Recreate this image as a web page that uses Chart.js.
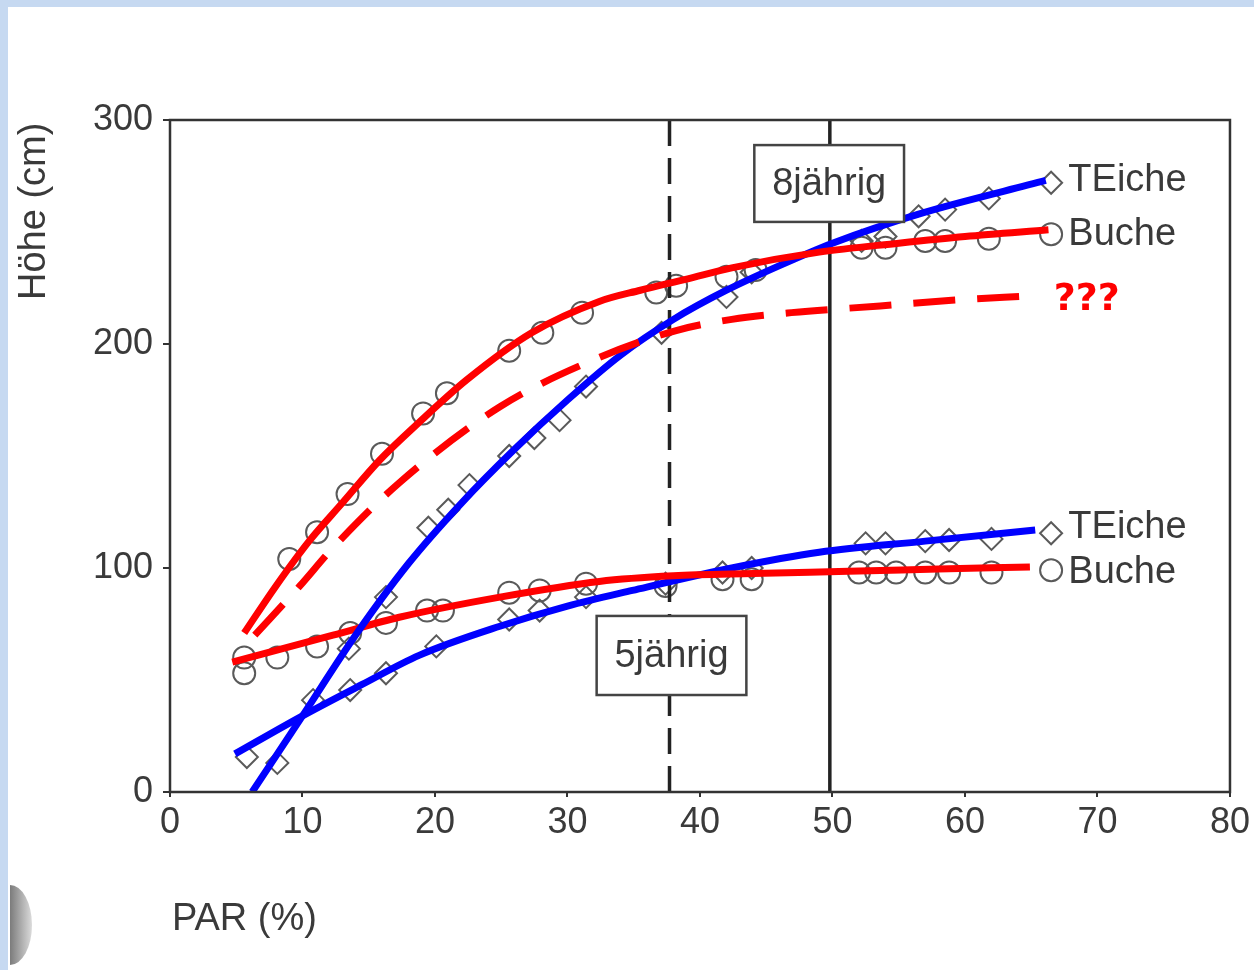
<!DOCTYPE html>
<html>
<head>
<meta charset="utf-8">
<script src="https://cdn.jsdelivr.net/npm/chart.js@4.4.1/dist/chart.umd.min.js"></script>
<style>
  html, body { margin: 0; padding: 0; background: #fff; }
  canvas { display: block; }
</style>
</head>
<body>
<canvas id="chart" width="1254" height="970"></canvas>
<script>
// axis ticks
const xTicks = [0, 10, 20, 30, 40, 50, 60, 70, 80]
const yTicks = [0, 100, 200, 300]

// coloured fitted curves drawn over the scan (PAR %, height cm)
const buche8X = [5.6, 8, 10.5, 13, 15.8, 18.8, 22.4, 27.3, 32.4, 35.5, 39, 42.4, 49, 55, 60, 66.3]
const buche8Y = [71, 92, 112, 129, 148, 165, 184, 205, 219, 224, 229, 234, 241, 245, 248, 251]
const guess8X = [6.4, 9.8, 12.3, 17.3, 24.9, 32.4, 38.2, 42.4, 46.9, 53.6, 59, 64.9]
const guess8Y = [70, 92, 109, 138, 172, 194, 206, 211, 214, 217, 219.5, 221.5]
const teiche8X = [6.2, 10, 14, 18, 22, 26, 30, 34, 38, 42, 46, 50, 56.5, 66.1]
const teiche8Y = [0, 34, 70, 102, 129, 153, 175, 195, 211, 224, 235, 245, 258, 273]
const buche5X = [4.7, 12.3, 17.3, 24.9, 32.4, 38, 44, 51.2, 58, 64.9]
const buche5Y = [58, 70, 78, 87, 94, 96.5, 97.5, 98.5, 99.5, 100.5]
const teiche5X = [4.9, 10, 14.5, 18.8, 24.9, 30, 34.9, 42.4, 49, 57, 65.3]
const teiche5Y = [17, 34, 48, 61, 74, 83, 90, 100, 107, 112, 117]

// scanned measurement markers
const buche8MX = [9, 11.1, 13.4, 16, 19.1, 20.9, 25.6, 28.1, 31.1, 36.7, 38.2, 42, 44.2, 52.2, 54, 57, 58.5, 61.8, 66.5]
const buche8MY = [104, 116, 133, 151, 169, 178, 197, 205, 214, 223, 226, 230, 233, 243, 243, 246, 246, 247, 249]
const teiche8MX = [8.1, 10.8, 13.5, 16.3, 19.5, 21, 22.6, 25.6, 27.5, 29.4, 31.4, 37.1, 42, 43.9, 52.2, 54, 56.5, 58.5, 61.8, 66.5]
const teiche8MY = [13, 41, 64, 87, 118, 126, 137, 150, 158, 166, 181, 205, 221, 232, 246, 248, 257, 260, 265, 272]
const buche5MX = [5.6, 5.6, 8.1, 11.1, 13.6, 16.3, 19.4, 20.6, 25.6, 27.9, 31.4, 37.4, 41.7, 43.9, 52, 53.3, 54.8, 57, 58.8, 62, 66.5]
const buche5MY = [53, 60, 60, 65, 71, 75.5, 81, 81, 89, 90, 93, 92, 95, 95, 98, 98, 98, 98, 98, 98, 99]
const teiche5MX = [5.8, 13.6, 16.3, 20.1, 25.6, 27.9, 31.4, 37.4, 41.7, 43.9, 52.5, 54, 57, 58.8, 62, 66.5]
const teiche5MY = [15.6, 45.5, 53, 65, 77, 81, 87, 93, 98, 100, 111, 111, 112, 112.5, 113, 115.5]

// reference lines
const ageLineDashedX = 37.7
const ageLineSolidX = 49.8

const pts = (xs, ys) => xs.map((x, i) => ({ x: x, y: ys[i] }))
const scanInk = '#3a3a3a'

function curve(xs, ys, color, dash) {
    return {
        data: pts(xs, ys),
        showLine: true,
        borderColor: color,
        borderWidth: 7,
        borderDash: dash || [],
        pointRadius: 0,
        cubicInterpolationMode: 'monotone',
        order: 0
    }
}

function markers(xs, ys, style) {
    return {
        data: pts(xs, ys),
        showLine: false,
        pointStyle: style,
        pointRadius: 11,
        borderColor: '#5a5a5a',
        backgroundColor: 'rgba(255,255,255,0)',
        pointBorderWidth: 2,
        order: 2
    }
}

function vline(x, dash) {
    return {
        data: [{ x: x, y: 0 }, { x: x, y: 300 }],
        showLine: true,
        borderColor: '#222',
        borderWidth: 3.5,
        borderDash: dash || [],
        pointRadius: 0,
        order: 1
    }
}

const scanPlugin = {
    id: 'scan',
    beforeDraw(chart) {
        const ctx = chart.ctx
        ctx.save()
        ctx.fillStyle = '#fff'
        ctx.fillRect(0, 0, chart.width, chart.height)
        ctx.fillStyle = '#c6d9f1'
        ctx.fillRect(0, 0, chart.width, 7)
        ctx.fillRect(0, 0, 8, chart.height)
        // grey blob bottom left
        const g = ctx.createLinearGradient(6, 0, 34, 0)
        g.addColorStop(0, '#6a6a6a')
        g.addColorStop(1, '#e4e4e4')
        ctx.fillStyle = g
        ctx.beginPath()
        ctx.ellipse(10, 925, 22, 40, 0, -Math.PI / 2, Math.PI / 2)
        ctx.fill()
        ctx.restore()
    },
    afterDatasetsDraw(chart) {
        const ctx = chart.ctx
        const xs = chart.scales.x
        const ys = chart.scales.y
        const a = chart.chartArea
        ctx.save()

        // frame
        ctx.strokeStyle = '#333'
        ctx.lineWidth = 2.5
        ctx.strokeRect(a.left, a.top, a.right - a.left, a.bottom - a.top)

        // age boxes
        ctx.font = '38px "Liberation Sans", Arial, sans-serif'
        ctx.textAlign = 'center'
        ctx.textBaseline = 'middle'
        const box = (x0, x1, y0, y1, text) => {
            const l = xs.getPixelForValue(x0), r = xs.getPixelForValue(x1)
            const t = ys.getPixelForValue(y0), b = ys.getPixelForValue(y1)
            ctx.fillStyle = '#fff'
            ctx.fillRect(l, t, r - l, b - t)
            ctx.strokeStyle = '#444'
            ctx.lineWidth = 2.5
            ctx.strokeRect(l, t, r - l, b - t)
            ctx.fillStyle = scanInk
            ctx.fillText(text, (l + r) / 2, (t + b) / 2 + 1)
        }
        box(44.1, 55.4, 288.8, 254.5, '8jährig')
        box(32.2, 43.5, 78.6, 43.3, '5jährig')

        // series end labels
        ctx.textAlign = 'left'
        ctx.fillStyle = scanInk
        const lx = xs.getPixelForValue(67.8)
        ctx.fillText('TEiche', lx, ys.getPixelForValue(273))
        ctx.fillText('Buche', lx, ys.getPixelForValue(248.7))
        ctx.fillText('TEiche', lx, ys.getPixelForValue(117.9))
        ctx.fillText('Buche', lx, ys.getPixelForValue(97.8))

        ctx.fillStyle = '#ff0000'
        ctx.font = 'bold 38px "DejaVu Sans", sans-serif'
        ctx.fillText('???', xs.getPixelForValue(66.7), ys.getPixelForValue(219.6))

        // axis titles
        ctx.fillStyle = scanInk
        ctx.font = '38px "Liberation Sans", Arial, sans-serif'
        ctx.fillText('PAR (%)', 172, 920)
        ctx.translate(35, 300)
        ctx.rotate(-Math.PI / 2)
        ctx.fillText('Höhe (cm)', 0, 0)
        ctx.restore()
    }
}

new Chart(document.getElementById('chart'), {
    type: 'scatter',
    data: {
        datasets: [
            curve(buche8X, buche8Y, '#ff0000'),
            curve(guess8X, guess8Y, '#ff0000', [42, 22]),
            curve(teiche8X, teiche8Y, '#0000ff'),
            curve(buche5X, buche5Y, '#ff0000'),
            curve(teiche5X, teiche5Y, '#0000ff'),
            vline(ageLineDashedX, [26, 12]),
            vline(ageLineSolidX),
            markers(buche8MX, buche8MY, 'circle'),
            markers(teiche8MX, teiche8MY, 'rectRot'),
            markers(buche5MX, buche5MY, 'circle'),
            markers(teiche5MX, teiche5MY, 'rectRot')
        ]
    },
    options: {
        responsive: false,
        devicePixelRatio: 1,
        animation: false,
        layout: { padding: { top: 120, right: 22, left: 0, bottom: 0 } },
        plugins: {
            legend: { display: false },
            tooltip: { enabled: false }
        },
        scales: {
            x: {
                type: 'linear',
                min: 0,
                max: 80,
                afterFit(scale) { scale.height = 178 },
                afterBuildTicks(scale) { scale.ticks = xTicks.map(v => ({ value: v })) },
                border: { display: false },
                grid: { drawOnChartArea: false, tickLength: 5, tickColor: '#333', lineWidth: 2 },
                ticks: {
                    padding: 4,
                    color: scanInk,
                    font: { family: '"Liberation Sans", Arial, sans-serif', size: 36 }
                }
            },
            y: {
                type: 'linear',
                min: 0,
                max: 300,
                afterFit(scale) { scale.width = 170 },
                afterBuildTicks(scale) { scale.ticks = yTicks.map(v => ({ value: v })) },
                border: { display: false },
                grid: { drawOnChartArea: false, tickLength: 7, tickColor: '#333', lineWidth: 2 },
                ticks: {
                    padding: 10,
                    color: scanInk,
                    font: { family: '"Liberation Sans", Arial, sans-serif', size: 36 }
                }
            }
        }
    },
    plugins: [scanPlugin]
})
</script>
</body>
</html>
